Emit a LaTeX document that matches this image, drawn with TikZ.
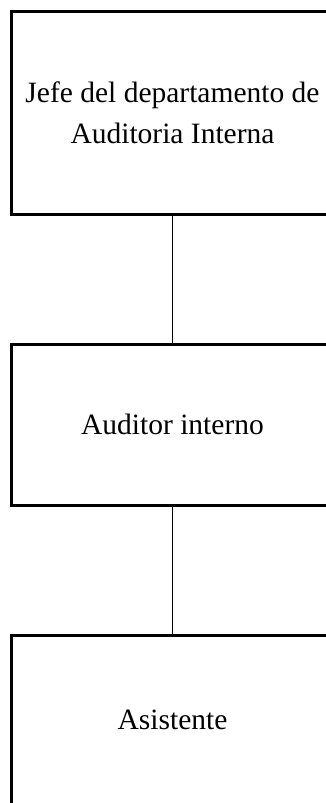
\documentclass[tikz,border=0pt]{standalone}
\usepackage{fontspec}
\setmainfont{Liberation Serif}
\begin{document}
\begin{tikzpicture}[x=1pt,y=-1pt,
  orgbox/.style={draw=black,line width=3pt,inner sep=0pt,outer sep=0pt,
    minimum width=322pt,align=center,font=\fontsize{29.5}{41}\selectfont},
  link/.style={draw=black,line width=1.3pt}]
\useasboundingbox (0,0) rectangle (326,803);
\fill[white] (0,0) rectangle (326,803);
\node[orgbox,minimum height=203pt] (jefe) at (172.5,112.5) {Jefe del departamento de\\Auditoria Interna};
\node[orgbox,minimum height=161pt] (aud) at (172.5,424.5) {Auditor interno};
\node[orgbox,minimum height=170pt] (asis) at (172.5,720) {Asistente};
\draw[link] (jefe.south) -- (aud.north);
\draw[link] (aud.south) -- (asis.north);
\end{tikzpicture}
\end{document}
